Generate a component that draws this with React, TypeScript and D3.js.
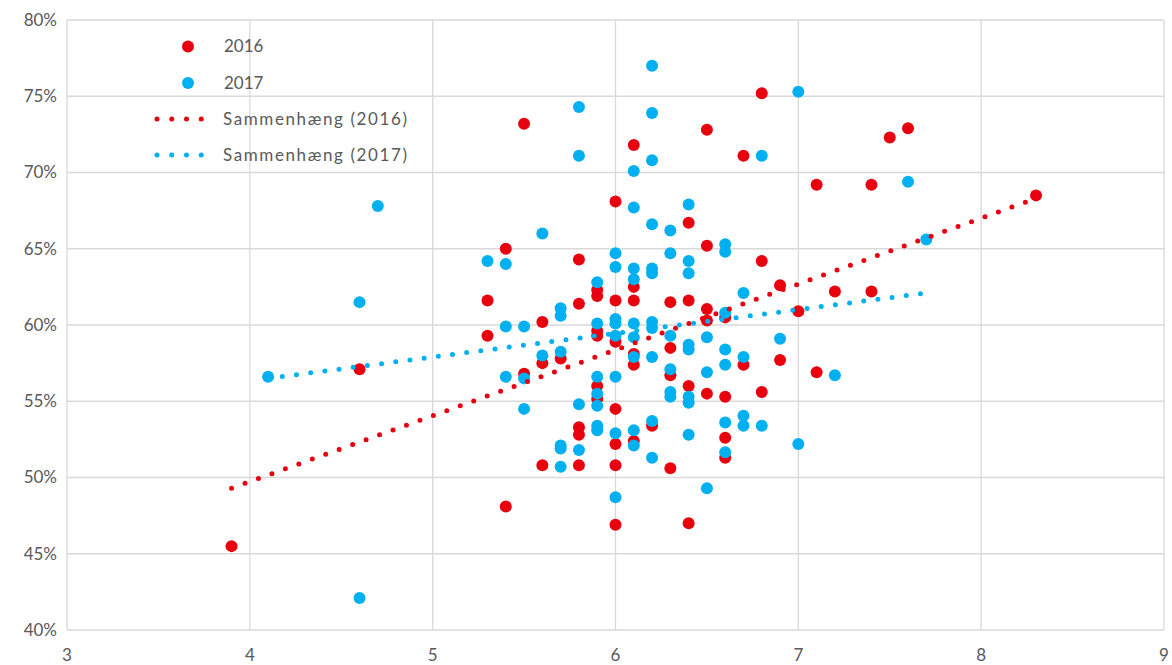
import React from "react";
import * as d3 from "d3";

// ---- data ----
const xTicks = [3, 4, 5, 6, 7, 8, 9];
const yTicks = [0.4, 0.45, 0.5, 0.55, 0.6, 0.65, 0.7, 0.75, 0.8];

const points2016: [number, number][] = [
  [3.9, 45.5], [4.6, 57.1], [5.3, 61.6], [5.3, 59.3], [5.4, 65.0], [5.4, 48.1],
  [5.5, 73.2], [5.5, 56.8], [5.6, 60.2], [5.6, 57.5], [5.6, 50.8], [5.7, 57.8],
  [5.8, 64.3], [5.8, 61.4], [5.8, 53.3], [5.8, 52.8], [5.8, 50.8],
  [5.9, 62.3], [5.9, 61.9], [5.9, 59.6], [5.9, 59.3], [5.9, 56.0], [5.9, 55.15],
  [6.0, 68.1], [6.0, 61.6], [6.0, 58.9], [6.0, 54.5], [6.0, 52.2], [6.0, 50.8], [6.0, 46.9],
  [6.1, 71.8], [6.1, 62.5], [6.1, 61.6], [6.1, 58.1], [6.1, 57.4], [6.1, 52.4],
  [6.2, 53.4],
  [6.3, 61.5], [6.3, 58.5], [6.3, 56.7], [6.3, 50.6],
  [6.4, 66.7], [6.4, 61.6], [6.4, 56.0], [6.4, 47.0],
  [6.5, 72.8], [6.5, 65.2], [6.5, 61.05], [6.5, 60.3], [6.5, 55.5],
  [6.6, 60.5], [6.6, 55.3], [6.6, 52.6], [6.6, 51.3],
  [6.7, 71.1], [6.7, 57.4],
  [6.8, 75.2], [6.8, 64.2], [6.8, 55.6],
  [6.9, 62.6], [6.9, 57.7],
  [7.0, 60.9], [7.1, 69.2], [7.1, 56.9], [7.2, 62.2],
  [7.4, 69.2], [7.4, 62.2], [7.5, 72.3], [7.6, 72.9], [8.3, 68.5],
];

const points2017: [number, number][] = [
  [4.1, 56.6], [4.6, 61.5], [4.6, 42.1], [4.7, 67.8],
  [5.3, 64.2],
  [5.4, 64.0], [5.4, 59.9], [5.4, 56.6],
  [5.5, 59.9], [5.5, 56.5], [5.5, 54.5],
  [5.6, 66.0], [5.6, 58.0],
  [5.7, 61.1], [5.7, 60.6], [5.7, 58.25], [5.7, 52.1], [5.7, 51.9], [5.7, 50.7],
  [5.8, 74.3], [5.8, 71.1], [5.8, 54.8], [5.8, 51.8],
  [5.9, 62.8], [5.9, 60.1], [5.9, 56.6], [5.9, 55.5], [5.9, 54.7], [5.9, 53.4], [5.9, 53.1],
  [6.0, 64.7], [6.0, 63.8], [6.0, 60.4], [6.0, 60.1], [6.0, 59.3], [6.0, 56.6], [6.0, 52.9], [6.0, 48.7],
  [6.1, 70.1], [6.1, 67.7], [6.1, 63.7], [6.1, 63.0], [6.1, 60.1], [6.1, 59.2], [6.1, 57.9], [6.1, 53.1], [6.1, 52.1],
  [6.2, 77.0], [6.2, 73.9], [6.2, 70.8], [6.2, 66.6], [6.2, 63.7], [6.2, 63.4], [6.2, 60.2], [6.2, 59.8], [6.2, 57.9], [6.2, 53.7], [6.2, 51.3],
  [6.3, 66.2], [6.3, 64.7], [6.3, 59.3], [6.3, 57.1], [6.3, 55.6], [6.3, 55.3],
  [6.4, 67.9], [6.4, 64.2], [6.4, 63.4], [6.4, 58.7], [6.4, 58.4], [6.4, 55.3], [6.4, 54.9], [6.4, 52.8],
  [6.5, 59.2], [6.5, 56.9], [6.5, 49.3],
  [6.6, 65.3], [6.6, 64.8], [6.6, 60.8], [6.6, 58.4], [6.6, 57.4], [6.6, 53.6], [6.6, 51.65],
  [6.7, 62.1], [6.7, 57.9], [6.7, 54.05], [6.7, 53.4],
  [6.8, 71.1], [6.8, 53.4],
  [6.9, 59.1],
  [7.0, 75.3], [7.0, 52.2],
  [7.2, 56.7], [7.6, 69.4], [7.7, 65.6],
];

// trend lines (linear), endpoints
const trend2016: [number, number][] = [[3.9, 49.3], [8.3, 68.3]];
const trend2017: [number, number][] = [[4.1, 56.5], [7.7, 62.1]];

const seriesNames = ["2016", "2017", "Sammenhæng (2016)", "Sammenhæng (2017)"];

const RED = "#E8000E";
const BLUE = "#00B0F0";
const GRID = "#D9D9D9";
const TEXT = "#595959";
const FONT = "Lato, 'Open Sans', sans-serif";

export default function App() {
  const W = 1172, H = 665;
  const x = d3.scaleLinear().domain([3, 9]).range([67, 1164]);
  const y = d3.scaleLinear().domain([0.4, 0.8]).range([630, 20]);
  const fmt = d3.format(".0%");
  const line = d3
    .line<[number, number]>()
    .x((d) => x(d[0]))
    .y((d) => y(d[1] / 100));

  const dotted = { strokeWidth: 5, strokeLinecap: "round" as const, strokeDasharray: "0 14.3", fill: "none" };

  return (
    <svg
      width={W}
      height={H}
      style={{ position: "absolute", left: 0, top: 0, display: "block", background: "#fff" }}
      fontFamily={FONT}
    >
      <rect width={W} height={H} fill="#fff" />
      {/* grid */}
      {yTicks.map((t) => (
        <line key={"gy" + t} x1={x(3)} x2={x(9)} y1={y(t)} y2={y(t)} stroke={GRID} strokeWidth={1.3} />
      ))}
      {xTicks.map((t) => (
        <line key={"gx" + t} x1={x(t)} x2={x(t)} y1={y(0.4)} y2={y(0.8)} stroke={GRID} strokeWidth={1.3} />
      ))}
      {/* axis labels */}
      {yTicks.map((t) => (
        <text key={"ly" + t} x={57} y={y(t)} dy="0.35em" textAnchor="end" fontSize={17} fill={TEXT}>
          {fmt(t)}
        </text>
      ))}
      {xTicks.map((t) => (
        <text key={"lx" + t} x={x(t)} y={655} dy="0.35em" textAnchor="middle" fontSize={17} fill={TEXT}>
          {t}
        </text>
      ))}
      {/* markers */}
      {points2016.map((p, i) => (
        <circle key={"r" + i} cx={x(p[0])} cy={y(p[1] / 100)} r={6} fill={RED} />
      ))}
      {points2017.map((p, i) => (
        <circle key={"b" + i} cx={x(p[0])} cy={y(p[1] / 100)} r={6} fill={BLUE} />
      ))}
      {/* trend lines */}
      <path d={line(trend2016) || ""} stroke={RED} {...dotted} />
      <path d={line(trend2017) || ""} stroke={BLUE} {...dotted} />
      {/* legend */}
      <g fontSize={17} fill={TEXT}>
        <circle cx={188} cy={46.5} r={6} fill={RED} />
        <text x={224} y={46.5} dy="0.35em">{seriesNames[0]}</text>
        <circle cx={188} cy={83} r={6} fill={BLUE} />
        <text x={224} y={83} dy="0.35em">{seriesNames[1]}</text>
        <path d="M157,119H216" stroke={RED} {...dotted} strokeDasharray="0 14.75" />
        <text x={223} y={119} dy="0.35em" letterSpacing={1.6}>{seriesNames[2]}</text>
        <path d="M157,155H216" stroke={BLUE} {...dotted} strokeDasharray="0 14.75" />
        <text x={223} y={155} dy="0.35em" letterSpacing={1.6}>{seriesNames[3]}</text>
      </g>
    </svg>
  );
}
